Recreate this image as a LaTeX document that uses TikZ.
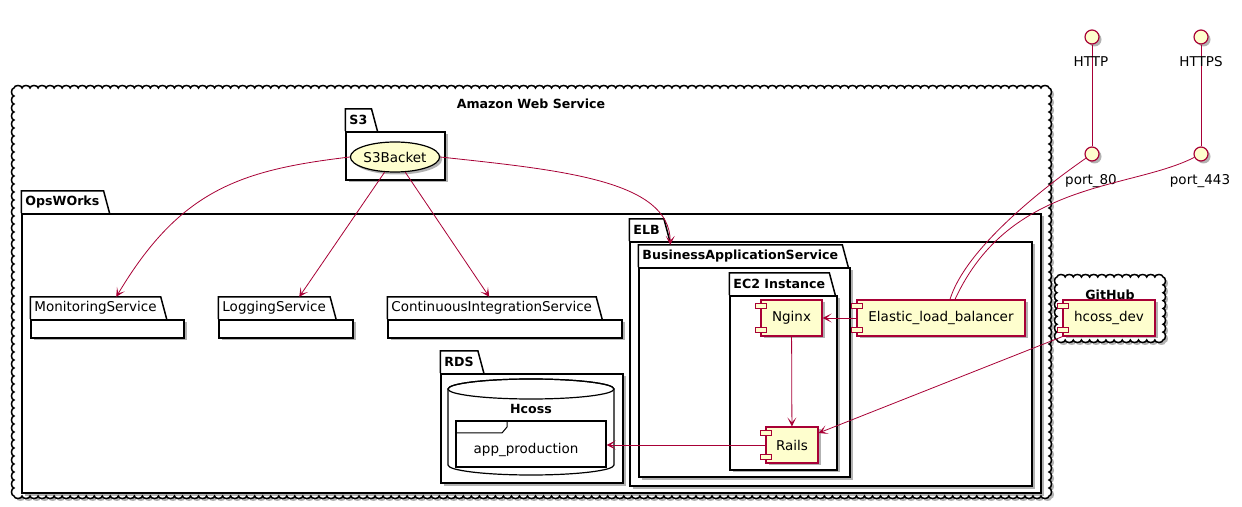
\documentclass[tikz,border=0pt]{standalone}
\usepackage{fontspec}
\setmainfont{DejaVu Sans}
\usetikzlibrary{fit,shadows,arrows.meta,shapes.geometric}

\definecolor{umlred}{HTML}{A80036}
\definecolor{umlfill}{HTML}{FEFECE}

\tikzset{
  shadowed/.style={drop shadow={shadow xshift=2.5pt,shadow yshift=-2.5pt,opacity=.3,fill=black}},
  pkgbody/.style={draw, line width=1.5pt, fill=white, inner sep=0pt, shadowed},
  pkgtitle/.style={inner xsep=4pt, inner ysep=0pt, minimum height=22pt, font=\bfseries\fontsize{12.6}{15}\selectfont},
  leaftitle/.style={pkgtitle, font=\fontsize{13.5}{15}\selectfont},
  comp/.style={draw=umlred, line width=1.2pt, fill=umlfill, inner sep=0pt, shadowed, font=\fontsize{13.5}{15}\selectfont},
  cloudline/.style={draw, line width=1.5pt, fill=white, shadowed},
  iface/.style={circle, draw=umlred, line width=1.2pt, fill=umlfill, minimum size=14pt, inner sep=0pt, shadowed},
  lbl/.style={font=\fontsize{13.5}{15}\selectfont, inner sep=0pt},
  boldlbl/.style={font=\bfseries\fontsize{12.6}{15}\selectfont, inner sep=0pt},
  link/.style={draw=umlred, line width=0.8pt},
  arr/.style={link, -{Stealth[length=9pt, width=9pt, inset=5pt]}},
}

% tab on top of a package body
\newcommand\pkgtab[3][pkgtitle]{%
  \node[#1, anchor=south west] (#2tab) at (#2.north west) {#3};
  \draw[line width=1.5pt] (#2tab.south west) |- (#2tab.north east) -- ([xshift=6pt]#2tab.south east);
}
% the two small boxes of a component
\newcommand\comptabs[1]{%
  \draw[umlred, line width=1pt, fill=umlfill] ([xshift=-5pt,yshift=-4pt]#1.north west) rectangle ++(11,-5);
  \draw[umlred, line width=1pt, fill=umlfill] ([xshift=-5pt,yshift=4pt]#1.south west) rectangle ++(11,5);
}
% scalloped cloud from lower left to upper right
\newcommand\cloudrect[4]{%
  \pgfmathsetmacro\cnx{int(round((#3-#1)/8))}%
  \pgfmathsetmacro\cny{int(round((#4-#2)/8))}%
  \pgfmathsetmacro\chx{(#3-#1)/\cnx/2}%
  \pgfmathsetmacro\chy{(#4-#2)/\cny/2}%
  \draw[cloudline] (#1,#2)
    \foreach \i in {1,...,\cny} {arc[start angle=270, end angle=90, x radius=2.5, y radius=\chy]}
    \foreach \i in {1,...,\cnx} {arc[start angle=180, end angle=0, x radius=\chx, y radius=2.5]}
    \foreach \i in {1,...,\cny} {arc[start angle=90, end angle=-90, x radius=2.5, y radius=\chy]}
    \foreach \i in {1,...,\cnx} {arc[start angle=0, end angle=-180, x radius=\chx, y radius=2.5]}
    -- cycle;
}

\begin{document}
\begin{tikzpicture}[x=1pt, y=1pt]
\useasboundingbox (0,0) rectangle (1242,506);

% Amazon Web Service
\cloudrect{14}{10}{1049}{418}
\node[boldlbl] (awstitle) at (531,402) {Amazon Web Service};

\node[pkgbody, fit={(346,374) (445,326)}] (s3) {};
\pkgtab{s3}{S3}
\node[ellipse, draw=black, line width=1.2pt, fill=umlfill, minimum width=82pt, minimum height=30pt, inner sep=0pt, shadowed, font=\fontsize{13.5}{15}\selectfont] (s3b) at (395,349) {S3Backet};

\node[pkgbody, fit={(22,292) (1041,13)}] (ops) {};
\pkgtab{ops}{OpsWOrks}

\node[pkgbody, minimum width=153pt, minimum height=18pt] (mon) at (107.5,177) {};
\pkgtab[leaftitle]{mon}{MonitoringService}
\node[pkgbody, minimum width=134pt, minimum height=18pt] (log) at (286,177) {};
\pkgtab[leaftitle]{log}{LoggingService}
\node[pkgbody, minimum width=234pt, minimum height=18pt] (ci) at (505,177) {};
\pkgtab[leaftitle]{ci}{ContinuousIntegrationService}

% ELB
\node[pkgbody, fit={(630,264) (1032,20)}] (elb) {};
\pkgtab{elb}{ELB}
\node[pkgbody, fit={(639,238) (850,29)}] (bas) {};
\pkgtab{bas}{BusinessApplicationService}
\node[pkgbody, fit={(730,210) (837,36)}] (ec2) {};
\pkgtab{ec2}{EC2 Instance}

\node[comp, minimum width=61pt, minimum height=36pt] (nginx) at (791.5,188) {Nginx};
\comptabs{nginx}
\node[comp, minimum width=52pt, minimum height=36pt] (rails) at (792,61) {Rails};
\comptabs{rails}
\node[comp, minimum width=168pt, minimum height=36pt] (elbc) at (941,188) {Elastic\_load\_balancer};
\comptabs{elbc}

% RDS
\node[pkgbody, fit={(441,132) (623,23)}] (rds) {};
\pkgtab{rds}{RDS}
\draw[line width=1.2pt, fill=white] (448,117) -- (448,41) arc[start angle=180, end angle=360, x radius=83, y radius=10] -- (614,117) arc[start angle=0, end angle=180, x radius=83, y radius=10] -- cycle;
\draw[line width=1.2pt] (531,117) ellipse [x radius=83, y radius=10];
\node[boldlbl] (hcossdb) at (531,97) {Hcoss};
\node[draw, line width=1.2pt, fill=white, inner sep=0pt, fit={(456,85) (606,39)}] (app) {};
\draw[line width=1pt] (456,73) -- (502,73) -- (507,79) -- (507,85);
\node[lbl] (applbl) at (526,56) {app\_production};

% GitHub
\cloudrect{1057}{166}{1163}{229}
\node[boldlbl] (ghtitle) at (1110,211) {GitHub};
\node[comp, minimum width=92pt, minimum height=36pt] (hcoss) at (1109,188) {hcoss\_dev};
\comptabs{hcoss}

% interfaces
\node[iface] (http) at (1092,469) {};
\node[iface] (https) at (1201,469) {};
\node[iface] (port80) at (1092,352) {};
\node[iface] (port443) at (1201,352) {};
\draw[link] (http) -- (port80);
\draw[link] (https) -- (port443);
\node[lbl] (httplbl) at (1091,444) {HTTP};
\node[lbl] (httpslbl) at (1201,444) {HTTPS};
\node[lbl] (p80lbl) at (1091,325) {port\_80};
\node[lbl] (p443lbl) at (1200,325) {port\_443};

% arrows
\draw[arr] (s3b.west) .. controls (240,336) and (180,316) .. ([xshift=86pt]montab.north west);
\draw[arr] (s3b) -- ([xshift=81pt]logtab.north west);
\draw[arr] (s3b) -- ([xshift=102pt]citab.north west);
\draw[arr] (s3b.east) .. controls (560,336) and (670,326) .. ([xshift=32pt]bastab.north west);
\draw[arr] (elbc) -- (nginx);
\draw[arr] (nginx) -- (rails);
\draw[arr] (hcoss.south west) -- ([yshift=12pt]rails.east);
\draw[arr] (rails.west) -- (rails.west -| app.east);
\draw[link] (port80) .. controls (1040,316) and (965,256) .. ([xshift=9pt]elbc.north);
\draw[link] (port443) .. controls (1130,316) and (1010,326) .. ([xshift=14pt]elbc.north);
\end{tikzpicture}
\end{document}
